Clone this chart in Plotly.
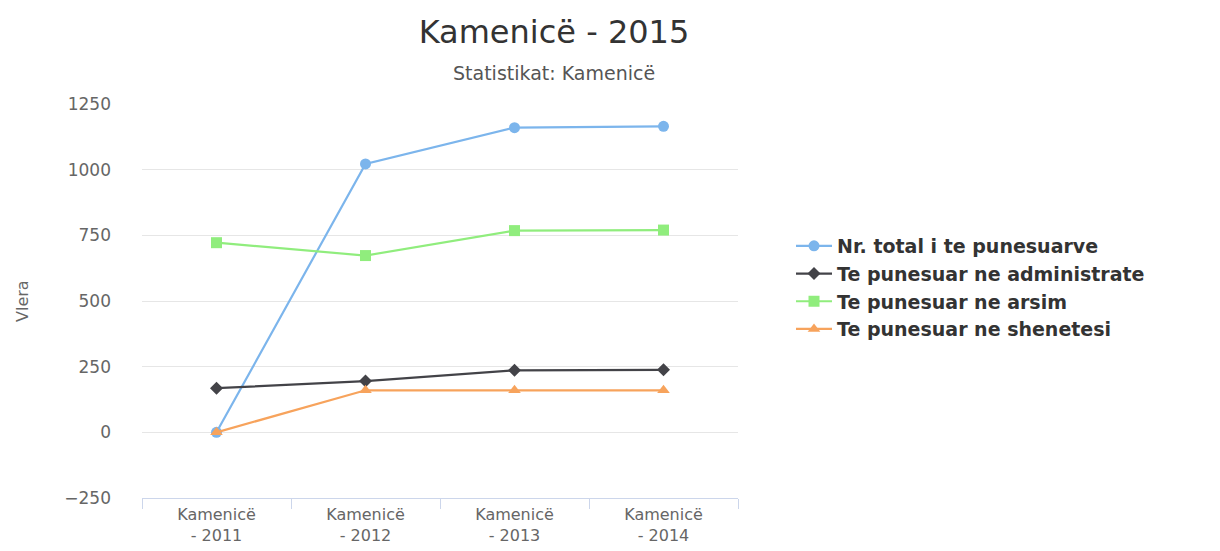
import plotly.graph_objects as go

categories = ["Kamenicë - 2011", "Kamenicë - 2012", "Kamenicë - 2013", "Kamenicë - 2014"]
tick_labels = ["Kamenicë<br>- 2011", "Kamenicë<br>- 2012", "Kamenicë<br>- 2013", "Kamenicë<br>- 2014"]

total = [0, 1022, 1160, 1165]
administrate = [168, 195, 236, 238]
arsim = [722, 673, 768, 770]
shendetesi = [0, 160, 160, 160]

series_names = [
    "Nr. total i te punesuarve",
    "Te punesuar ne administrate",
    "Te punesuar ne arsim",
    "Te punesuar ne shenetesi",
]
series_values = [total, administrate, arsim, shendetesi]
colors = ["#7cb5ec", "#434348", "#90ed7d", "#f7a35c"]
symbols = ["circle", "diamond", "square", "triangle-up"]
y_ticks = [-250, 0, 250, 500, 750, 1000, 1250]

FONT = "DejaVu Sans"

# page body has an 8px margin, so the figure is drawn 8px smaller
W, H = 1212, 543
L, T, PW, PH = 134, 96, 596, 394

fig = go.Figure()
for name, vals, col, sym in zip(series_names, series_values, colors, symbols):
    fig.add_trace(go.Scatter(
        x=categories, y=vals, name=name, mode="lines+markers",
        line=dict(color=col, width=2.2),
        marker=dict(symbol=sym, size=11 if sym != "diamond" else 10, color=col),
    ))

fig.update_layout(
    width=W, height=H,
    margin=dict(l=L, r=W - L - PW, t=T, b=H - T - PH, autoexpand=False),
    paper_bgcolor="white", plot_bgcolor="white",
    font=dict(family=FONT, color="#666666"),
    showlegend=True,
    legend=dict(
        x=(783 - L) / PW, xanchor="left", y=(T + PH - 279.5) / PH, yanchor="middle",
        font=dict(family=FONT, size=19, color="#333333", weight="bold"),
        tracegroupgap=0, itemwidth=36, bgcolor="rgba(0,0,0,0)",
    ),
    title=dict(
        text="Kamenicë - 2015", x=546 / W, xref="container", xanchor="center",
        y=1 - 24 / H, yref="container", yanchor="middle",
        font=dict(family=FONT, size=32, color="#333333"),
    ),
    annotations=[
        dict(text="Statistikat: Kamenicë", xref="paper", yref="paper",
             x=(546 - L) / PW, y=(T + PH - 65) / PH, xanchor="center", yanchor="middle",
             showarrow=False, font=dict(family=FONT, size=19, color="#555555")),
        dict(text="Vlera", xref="paper", yref="paper",
             x=(14 - L) / PW, y=0.5, xanchor="center", yanchor="middle",
             textangle=-90, showarrow=False, font=dict(family=FONT, size=16, color="#666666")),
    ],
)

fig.update_xaxes(
    type="category", tickvals=categories, ticktext=tick_labels,
    showgrid=False, showline=True, linecolor="#ccd6eb", linewidth=1,
    ticks="outside", tickson="boundaries", ticklen=10, tickcolor="#ccd6eb",
    tickfont=dict(family=FONT, size=16, color="#666666"),
    zeroline=False, range=[-0.5, 3.5], ticklabelstandoff=2,
)
fig.update_yaxes(
    range=[-250, 1250], tickvals=y_ticks,
    showgrid=True, gridcolor="#e6e6e6", gridwidth=1,
    zeroline=False, showline=False,
    tickfont=dict(family=FONT, size=17, color="#666666"),
    ticklabelstandoff=30,
)

fig.write_html("out.html")
